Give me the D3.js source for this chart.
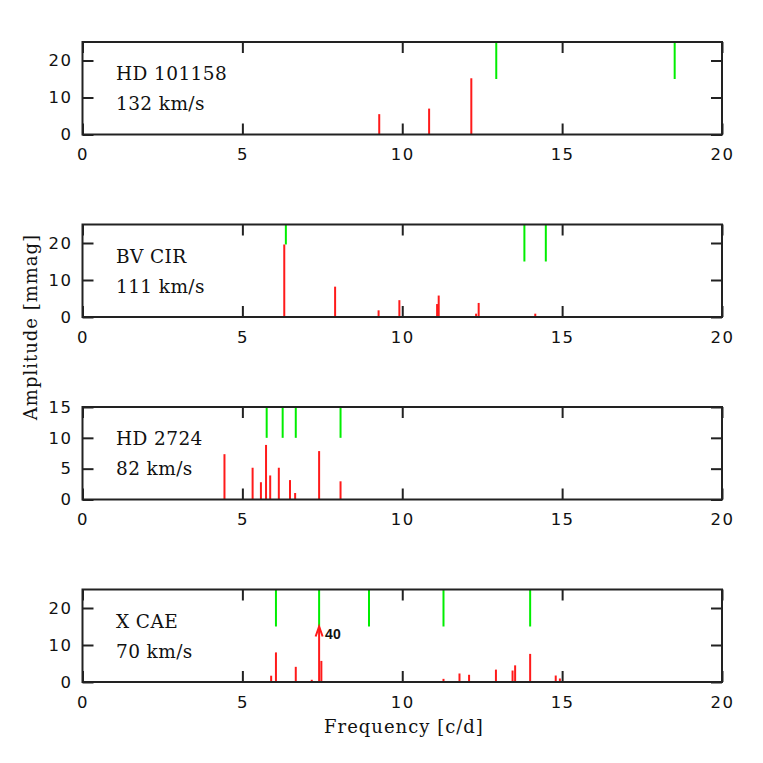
<!DOCTYPE html>
<html>
<head>
<meta charset="utf-8">
<script src="https://cdn.jsdelivr.net/npm/d3@7"></script>
<style>
  html, body { margin: 0; padding: 0; background: #fff; }
  svg { display: block; }
</style>
</head>
<body>
<script>
// ---------- data ----------
const starNames = ["HD 101158", "BV CIR", "HD 2724", "X CAE"];
const vsini = ["132 km/s", "111 km/s", "82 km/s", "70 km/s"];
const yMax = [25, 25, 15, 25];
const yTickValues = [[0, 10, 20], [0, 10, 20], [0, 5, 10, 15], [0, 10, 20]];
const xTickValues = [0, 5, 10, 15, 20];

// observed frequencies (red) [c/d] and amplitudes [mmag]
const redFreq1 = [9.28, 10.84, 12.16];
const redAmp1  = [5.5, 7.0, 15.2];
const redFreq2 = [6.31, 7.90, 9.26, 9.91, 11.09, 11.14, 12.31, 12.39, 14.16];
const redAmp2  = [19.6, 8.2, 1.8, 4.55, 3.5, 5.8, 0.9, 3.8, 0.9];
const redFreq3 = [4.44, 5.32, 5.58, 5.74, 5.87, 6.14, 6.49, 6.65, 7.40, 8.07];
const redAmp3  = [7.35, 5.15, 2.8, 8.85, 3.9, 5.15, 3.15, 1.05, 7.85, 2.95];
const redFreq4 = [5.90, 6.05, 6.67, 7.17, 7.40, 7.47, 11.29, 11.79, 12.09, 12.93, 13.45, 13.53, 14.00, 14.80, 14.93];
const redAmp4  = [1.7, 8.0, 4.1, 0.6, 40, 5.7, 0.85, 2.3, 1.95, 3.35, 3.1, 4.5, 7.6, 1.75, 0.95];

// predicted / marked frequencies (green), drawn from the top down to a lower value
const greenFreq1 = [12.94, 18.52];
const greenLow1  = [15, 15];
const greenFreq2 = [6.36, 13.82, 14.49];
const greenLow2  = [19.6, 15, 15];
const greenFreq3 = [5.76, 6.26, 6.67, 8.07];
const greenLow3  = [10, 10, 10, 10];
const greenFreq4 = [6.05, 7.40, 8.96, 11.29, 14.00];
const greenLow4  = [15, 15, 15, 15, 15];

// amplitude beyond which a bar is drawn as an arrow (per panel)
const clipAmp = [null, null, null, 15];

const redFreqs = [redFreq1, redFreq2, redFreq3, redFreq4];
const redAmps = [redAmp1, redAmp2, redAmp3, redAmp4];
const greenFreqs = [greenFreq1, greenFreq2, greenFreq3, greenFreq4];
const greenLows = [greenLow1, greenLow2, greenLow3, greenLow4];

// ---------- layout ----------
const W = 763, H = 763;
const left = 82.5, right = 722;
const top0 = 42, step = 182.5, ph = 92.5;
const frameColor = "#222";
const serif = "'DejaVu Serif', serif";
const sans = "'DejaVu Sans', sans-serif";

const svg = d3.select("body").append("svg").attr("width", W).attr("height", H);

const x = d3.scaleLinear().domain([0, 20]).range([left, right]);

starNames.forEach((name, i) => {
  const t = top0 + i * step, b = t + ph;
  const y = d3.scaleLinear().domain([0, yMax[i]]).range([b, t]);
  const g = svg.append("g");

  // green marks
  greenFreqs[i].forEach((f, k) => {
    g.append("line")
      .attr("x1", x(f)).attr("x2", x(f))
      .attr("y1", y(yMax[i])).attr("y2", y(greenLows[i][k]))
      .attr("stroke", "#00ee00").attr("stroke-width", 2);
  });

  // red bars
  redFreqs[i].forEach((f, k) => {
    const a = redAmps[i][k];
    const clip = clipAmp[i];
    const shown = (clip !== null && a > clip) ? clip : a;
    g.append("line")
      .attr("x1", x(f)).attr("x2", x(f))
      .attr("y1", y(0)).attr("y2", y(shown))
      .attr("stroke", "#ff1a1a").attr("stroke-width", 2);
    if (clip !== null && a > clip) {
      const tx = x(f), ty = y(clip);
      g.append("path")
        .attr("d", `M${tx - 3.5},${ty + 10} L${tx},${ty} L${tx + 3.5},${ty + 10}`)
        .attr("fill", "none").attr("stroke", "#ff1a1a").attr("stroke-width", 2);
      g.append("text")
        .attr("x", tx + 6).attr("y", ty + 12)
        .attr("font-family", "'Liberation Sans', Arial, sans-serif")
        .attr("font-weight", "bold").attr("font-size", 14)
        .attr("fill", "#111")
        .text(d3.format("d")(a));
    }
  });

  // frame
  g.append("rect")
    .attr("x", left).attr("y", t).attr("width", right - left).attr("height", ph)
    .attr("fill", "none").attr("stroke", frameColor).attr("stroke-width", 2);

  // x ticks (inward, top & bottom)
  const xAxisB = d3.axisBottom(x).tickValues(xTickValues).tickSize(-11).tickPadding(14)
    .tickFormat(d3.format("d"));
  const xa = g.append("g").attr("transform", `translate(0,${b})`).call(xAxisB);
  const xAxisT = d3.axisTop(x).tickValues(xTickValues).tickSize(-11).tickFormat("");
  const xt = g.append("g").attr("transform", `translate(0,${t})`).call(xAxisT);

  // y ticks (inward, left & right)
  const yAxisL = d3.axisLeft(y).tickValues(yTickValues[i]).tickSize(-11).tickPadding(10)
    .tickFormat(d3.format("d"));
  const ya = g.append("g").attr("transform", `translate(${left},0)`).call(yAxisL);
  const yAxisR = d3.axisRight(y).tickValues(yTickValues[i]).tickSize(-11).tickFormat("");
  const yr = g.append("g").attr("transform", `translate(${right},0)`).call(yAxisR);

  [xa, xt, ya, yr].forEach(ax => {
    ax.select(".domain").remove();
    ax.selectAll(".tick line").attr("stroke", frameColor).attr("stroke-width", 2);
    ax.selectAll(".tick text")
      .attr("font-family", sans).attr("font-size", 16.5)
      .attr("letter-spacing", "1.5px").attr("fill", "#111");
  });

  // labels inside panel
  g.append("text").attr("x", 116).attr("y", t + 38)
    .attr("font-family", serif).attr("font-size", 18.5).attr("fill", "#111")
    .attr("letter-spacing", "0.4px")
    .text(name);
  g.append("text").attr("x", 116).attr("y", t + 68)
    .attr("font-family", serif).attr("font-size", 18.5).attr("fill", "#111")
    .attr("letter-spacing", "0.4px")
    .text(vsini[i]);
});

// axis titles
svg.append("text")
  .attr("x", 404).attr("y", 733)
  .attr("text-anchor", "middle")
  .attr("font-family", serif).attr("font-size", 18).attr("letter-spacing", "1px")
  .attr("fill", "#111")
  .text("Frequency [c/d]");
svg.append("text")
  .attr("transform", "translate(37,327) rotate(-90)")
  .attr("text-anchor", "middle")
  .attr("font-family", serif).attr("font-size", 18).attr("letter-spacing", "1px")
  .attr("fill", "#111")
  .text("Amplitude [mmag]");
</script>
</body>
</html>
